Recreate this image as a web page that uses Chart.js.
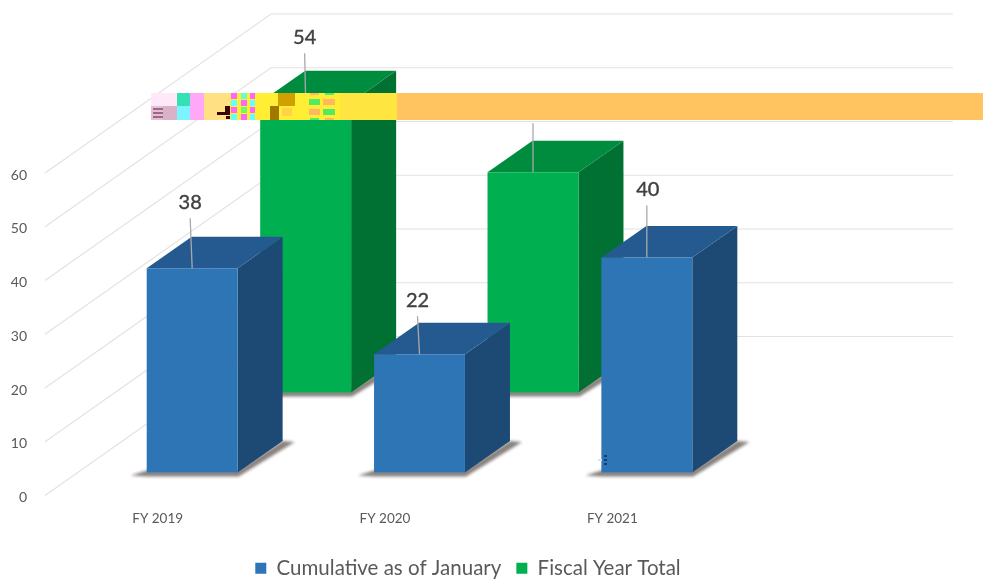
<!DOCTYPE html>
<html lang="en">

<head>
  <meta charset="UTF-8">
  <title>Cumulative vs Fiscal Year Total</title>
  <style>
    html, body { margin: 0; padding: 0; background: #fff; }
    #myCanvas { display: block; }
  </style>
</head>

<body>
  <canvas id="myCanvas" width="983" height="581"></canvas>

  <script src="https://cdn.jsdelivr.net/npm/chart.js"></script>
  <script>
    const categories = ['FY 2019', 'FY 2020', 'FY 2021'];
    const cumulativeLabel = 'Cumulative as of January';
    const fiscalLabel = 'Fiscal Year Total';
    const cumulativeValues = [38, 22, 40];
    const fiscalValues = [54, 41];
    const yTickValues = [0, 10, 20, 30, 40, 50, 60];

    // 3d look: how far back the walls go and how deep each bar is
    const wallShift = { x: 227, y: -159 };
    const barDepth = { x: 45, y: -31.5 };
    const rowShift = [{ x: 34.5, y: -23 }, { x: 148, y: -103 }];
    const faceColors = [
      { top: '#245A90', side: '#1C4A75' },
      { top: '#008C3E', side: '#007033' }
    ];
    // how high the number sits over its bar and how far its leader leans, per series
    const labelLift = [[66, 54, 68], [65, 65]];
    const labelLean = [[-2, -2, 1], [-1, 0]];

    // the damaged strip over the picture: x, y, w, h, colour
    const stripPatches = [
      [397, 93, 586, 27, '#FFC35F'], [255, 93, 142, 27, '#FFEE33'], [340, 93, 57, 27, '#FFE53F'],
      [151, 93, 26, 13, '#FFE8F8'], [151, 106, 12, 14, '#E6BCD6'], [163, 106, 14, 14, '#D8B2C8'],
      [153, 108, 10, 2, '#9A6A80'], [153, 112, 10, 2, '#9A6A80'], [153, 116, 10, 2, '#9A6A80'],
      [177, 93, 13, 13, '#34E0B4'], [177, 106, 13, 14, '#7CF4FF'], [190, 93, 14, 27, '#FFA8F8'],
      [204, 93, 26, 27, '#FFE082'], [225, 106, 6, 6, '#3A0505'], [217, 112, 14, 3, '#3A0505'], [226, 116, 5, 3, '#3A0505'],
      [230, 93, 26, 27, '#FFEE33'], [231, 93, 6, 6, '#FF66FF'], [241, 93, 6, 6, '#66FFCC'], [250, 93, 5, 6, '#FF66FF'],
      [231, 100, 6, 6, '#66FFFF'], [241, 100, 6, 6, '#FF66FF'], [250, 100, 5, 6, '#66FFFF'],
      [231, 107, 6, 6, '#FF66FF'], [241, 107, 6, 6, '#66FF66'], [250, 107, 5, 6, '#FF66FF'],
      [231, 114, 6, 6, '#66FFFF'], [241, 114, 6, 6, '#FF66FF'], [250, 114, 5, 6, '#66FFFF'],
      [270, 106, 9, 14, '#A07800'], [278, 93, 17, 13, '#D0A000'], [282, 108, 10, 8, '#FFD24A'],
      [309, 99, 11, 6, '#52EA62'], [323, 99, 12, 6, '#FFB860'], [309, 109, 11, 6, '#FFB860'], [323, 109, 12, 6, '#52EA62'],
      [310, 93, 9, 2, '#FFB860'], [325, 93, 9, 2, '#52EA62'], [310, 118, 9, 2, '#52EA62'], [325, 118, 9, 2, '#FFB860']
    ];
    const speckPatches = [
      [598, 455, 3, 2, '#FFFFFF'], [604, 455, 3, 2, '#0F3F78'], [598, 459, 4, 2, '#DDE6F0'], [604, 459, 3, 2, '#0F3F78'],
      [598, 463, 3, 2, '#FFFFFF'], [604, 463, 3, 2, '#0F3F78']
    ];

    function drawPoly(ctx, points, color) {
      ctx.fillStyle = color;
      ctx.beginPath();
      points.forEach((p, i) => i ? ctx.lineTo(p[0], p[1]) : ctx.moveTo(p[0], p[1]));
      ctx.closePath();
      ctx.fill();
    }

    const bars3d = {
      id: 'bars3d',
      afterLayout(chart) {
        // legend sits a bit to the left of the page centre and low down
        const height = chart.legend.bottom - chart.legend.top;
        chart.legend.left = 0;
        chart.legend.right = 936;
        chart.legend.top = 543;
        chart.legend.bottom = 543 + height;
      },
      beforeDatasetsDraw(chart) {
        const { ctx, scales: { y }, chartArea } = chart;
        ctx.save();
        ctx.strokeStyle = '#E4E1E4';
        ctx.lineWidth = 1.2;
        yTickValues.forEach(v => {
          const py = y.getPixelForValue(v);
          ctx.beginPath();
          ctx.moveTo(chartArea.left + 1, py);
          ctx.lineTo(chartArea.left + wallShift.x, py + wallShift.y);
          ctx.lineTo(chartArea.right + wallShift.x, py + wallShift.y);
          ctx.stroke();
        });
        ctx.restore();
      },
      beforeDatasetDraw(chart, args) {
        const { ctx } = chart;
        const shift = rowShift[args.index];
        const colors = faceColors[args.index];
        ctx.save();
        ctx.translate(shift.x, shift.y);
        args.meta.data.forEach(bar => {
          const l = bar.x - bar.width / 2;
          const r = bar.x + bar.width / 2;
          const t = bar.y;
          const b = bar.base;
          const dx = barDepth.x;
          const dy = barDepth.y;

          ctx.save();
          ctx.filter = 'blur(1.8px)';
          drawPoly(ctx, [[l - 16, b + 3], [l, b - 2], [r, b - 2], [r + dx, b + dy], [r + dx + 12, b + dy + 1], [r + 1, b + 4], [l, b + 4]], 'rgba(85,75,70,0.7)');
          ctx.restore();

          drawPoly(ctx, [[r, t], [r + dx, t + dy], [r + dx, b + dy], [r, b]], colors.side);
          drawPoly(ctx, [[l, t], [l + dx, t + dy], [r + dx, t + dy], [r, t]], colors.top);
        });
      },
      afterDatasetDraw(chart) {
        chart.ctx.restore();
      },
      afterDatasetsDraw(chart) {
        const { ctx } = chart;
        ctx.save();
        ctx.textAlign = 'center';
        ctx.textBaseline = 'middle';
        ctx.font = '20px Lato';
        [1, 0].forEach(ds => {
          const shift = rowShift[ds];
          chart.getDatasetMeta(ds).data.forEach((bar, i) => {
            const value = chart.data.datasets[ds].data[i];
            const px = bar.x + shift.x;
            const py = bar.y + shift.y;
            const lift = labelLift[ds][i];
            const lean = labelLean[ds][i];
            ctx.strokeStyle = '#A9A9A9';
            ctx.lineWidth = 1.3;
            ctx.beginPath();
            ctx.moveTo(px + Math.min(lean, 0), py - lift + 16);
            ctx.lineTo(px, py);
            ctx.stroke();
            ctx.fillStyle = '#404040';
            ctx.strokeStyle = '#404040';
            ctx.lineWidth = 0.4;
            ctx.fillText(String(value), px + lean, py - lift);
            ctx.strokeText(String(value), px + lean, py - lift);
          });
        });
        ctx.restore();
      },
      afterDraw(chart) {
        const { ctx } = chart;
        ctx.save();
        stripPatches.concat(speckPatches).forEach(p => {
          ctx.fillStyle = p[4];
          ctx.fillRect(p[0], p[1], p[2], p[3]);
        });
        ctx.restore();
      }
    };

    const ctx = document.getElementById('myCanvas').getContext('2d');
    new Chart(ctx, {
      type: 'bar',
      data: {
        labels: categories,
        datasets: [
          { label: cumulativeLabel, data: cumulativeValues, backgroundColor: '#2E75B6', clip: false },
          { label: fiscalLabel, data: fiscalValues, backgroundColor: '#00B050', clip: false }
        ]
      },
      options: {
        responsive: false,
        animation: false,
        layout: { padding: { top: 173, left: 10, right: 257, bottom: 0 } },
        datasets: { bar: { grouped: false, barPercentage: 0.4, categoryPercentage: 1 } },
        scales: {
          x: {
            afterFit: axis => { axis.height = 40; },
            grid: { display: false },
            border: { display: false },
            ticks: { padding: 7, color: '#595959', font: { family: 'Lato', size: 13.5 }, maxRotation: 0 }
          },
          y: {
            min: 0,
            max: 60,
            afterBuildTicks: axis => { axis.ticks = yTickValues.map(value => ({ value })); },
            afterFit: axis => { axis.width = 34; },
            grid: { display: false },
            border: { display: false },
            ticks: { padding: 9, labelOffset: 2, color: '#595959', font: { family: 'Lato', size: 14 } }
          }
        },
        plugins: {
          legend: {
            position: 'bottom',
            labels: { boxWidth: 11, boxHeight: 11, padding: 15, color: '#595959', font: { family: 'Lato', size: 20.5 } }
          },
          tooltip: { enabled: false }
        }
      },
      plugins: [bars3d]
    });
  </script>
</body>

</html>
